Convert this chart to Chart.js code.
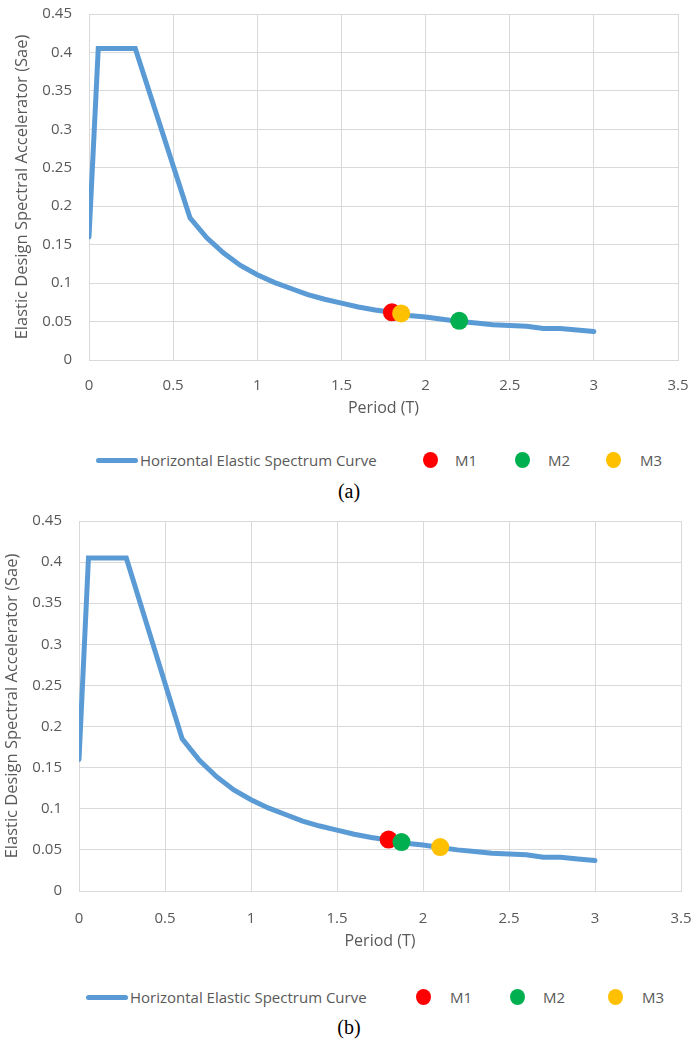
<!DOCTYPE html>
<html>
<head>
<meta charset="utf-8">
<script src="https://cdn.jsdelivr.net/npm/chart.js@4.4.0/dist/chart.umd.min.js"></script>
<style>
    body { margin: 0; background: #fff; width: 692px; height: 1041px; position: relative; overflow: hidden; font-family: "Open Sans", sans-serif; }
    canvas { position: absolute; left: 0; }
    .legText { position: absolute; font-size: 15px; line-height: 20px; color: #595959; white-space: nowrap; }
    .legLine { position: absolute; height: 5px; width: 42px; border-radius: 3px; }
    .legDot { position: absolute; width: 15px; height: 16px; border-radius: 50%; }
    .caption { position: absolute; width: 100px; left: 299px; text-align: center; font-family: "Liberation Serif", "Times New Roman", serif; font-size: 20px; line-height: 24px; color: #000; }
</style>
</head>
<body>
<canvas id="chartA" width="692" height="425" style="top:0px"></canvas>
<div id="legendA"></div>
<div class="caption" style="top:479px">(a)</div>
<canvas id="chartB" width="692" height="460" style="top:500px"></canvas>
<div id="legendB"></div>
<div class="caption" style="top:1015px">(b)</div>
<script>
// spectrum curve, period T (s) vs Sae
const periods = [0, 0.055, 0.275, 0.6, 0.7, 0.8, 0.9, 1.0, 1.1, 1.2, 1.3, 1.4, 1.5, 1.6, 1.7,
    1.8, 1.9, 2.0, 2.1, 2.2, 2.3, 2.4, 2.5, 2.6, 2.7, 2.8, 2.9, 3.0];
const saeValues = [0.16, 0.405, 0.405, 0.185, 0.159, 0.139, 0.123, 0.111, 0.101, 0.093, 0.085, 0.079, 0.074, 0.069, 0.065,
    0.062, 0.058, 0.056, 0.053, 0.050, 0.048, 0.046, 0.045, 0.044, 0.041, 0.041, 0.039, 0.037];

// M1, M2, M3 points
const markerPeriodsA = [1.80, 2.20, 1.855];
const markerSaeA = [0.062, 0.051, 0.0605];
const markerPeriodsB = [1.80, 1.875, 2.10];
const markerSaeB = [0.0625, 0.0595, 0.0535];

const seriesNames = ['Horizontal Elastic Spectrum Curve', 'M1', 'M2', 'M3'];
const xTickLabels = ['0', '0.5', '1', '1.5', '2', '2.5', '3', '3.5'];
const yTickLabels = ['0', '0.05', '0.1', '0.15', '0.2', '0.25', '0.3', '0.35', '0.4', '0.45'];

const curveColor = '#5B9BD5';
const markerColors = ['#FF0000', '#00B050', '#FFC000'];
const gridColor = '#d9d9d9';
const textColor = '#595959';

Chart.defaults.font.family = '"Open Sans", sans-serif';

function buildChart(canvasId, mx, my, g) {
    const datasets = [{
        label: seriesNames[0],
        data: periods.map((t, i) => ({ x: t, y: saeValues[i] })),
        showLine: true,
        borderColor: curveColor,
        borderWidth: 5,
        pointRadius: 0,
        borderCapStyle: 'round',
        borderJoinStyle: 'miter',
        tension: 0,
        order: 4
    }];
    for (let k = 0; k < 3; k++) {
        datasets.push({
            label: seriesNames[k + 1],
            data: [{ x: mx[k], y: my[k] }],
            pointRadius: 9,
            pointBackgroundColor: markerColors[k],
            pointBorderWidth: 0,
            order: 3 - k
        });
    }

    return new Chart(document.getElementById(canvasId).getContext('2d'), {
        type: 'scatter',
        data: { datasets },
        options: {
            responsive: false,
            animation: false,
            devicePixelRatio: 1,
            events: [],
            layout: { padding: g.padding },
            plugins: { legend: { display: false }, tooltip: { enabled: false } },
            scales: {
                x: {
                    type: 'linear', min: 0, max: 3.5,
                    ticks: {
                        stepSize: 0.5, autoSkip: false, maxRotation: 0,
                        padding: g.xTickPad, color: textColor, font: { size: 15 },
                        callback: (v, i) => xTickLabels[i]
                    },
                    grid: { color: gridColor, drawTicks: false },
                    border: { color: gridColor },
                    title: {
                        display: true, text: 'Period (T)', color: textColor,
                        font: { size: 16 }, padding: { top: 0, bottom: g.xTitlePad }
                    },
                    afterFit: (s) => {
                        s.height = g.xHeight;
                        s.paddingLeft = 0;
                        s.paddingRight = 0;
                    }
                },
                y: {
                    type: 'linear', min: 0, max: 0.45,
                    ticks: {
                        stepSize: 0.05, autoSkip: false,
                        padding: g.yTickPad, color: textColor, font: { size: 15 },
                        callback: (v, i) => yTickLabels[i]
                    },
                    grid: { color: gridColor, drawTicks: false },
                    border: { color: gridColor },
                    title: {
                        display: true, text: 'Elastic Design Spectral Accelerator (Sae)', color: textColor,
                        font: { size: 16.5 }, padding: { top: g.yTitlePad, bottom: 0 }
                    },
                    afterFit: (s) => {
                        s.width = g.yWidth;
                        s.paddingTop = 0;
                        s.paddingBottom = 0;
                    }
                }
            }
        }
    });
}

function buildLegend(holderId, chart, lay) {
    const holder = document.getElementById(holderId);
    chart.data.datasets.forEach((ds, i) => {
        const sw = document.createElement('div');
        if (i === 0) {
            sw.className = 'legLine';
            sw.style.background = ds.borderColor;
            sw.style.top = (lay.y - 2.5) + 'px';
        } else {
            sw.className = 'legDot';
            sw.style.background = ds.pointBackgroundColor;
            sw.style.top = (lay.y - 8) + 'px';
        }
        sw.style.left = lay.swatchX[i] + 'px';
        holder.appendChild(sw);

        const tx = document.createElement('div');
        tx.className = 'legText';
        tx.textContent = ds.label;
        tx.style.left = lay.textX[i] + 'px';
        tx.style.top = (lay.y - 10) + 'px';
        holder.appendChild(tx);
    });
}

const chartA = buildChart('chartA', markerPeriodsA, markerSaeA, {
    padding: { top: 14, right: 14, left: 0, bottom: 0 },
    yWidth: 89, xHeight: 65, xTickPad: 17, xTitlePad: 7, yTickPad: 17, yTitlePad: 12
});
const chartB = buildChart('chartB', markerPeriodsB, markerSaeB, {
    padding: { top: 21, right: 11, left: 0, bottom: 0 },
    yWidth: 79, xHeight: 69, xTickPad: 19, xTitlePad: 9, yTickPad: 17, yTitlePad: 2
});

buildLegend('legendA', chartA, { y: 460, swatchX: [96, 423, 515, 606], textX: [140, 455, 548, 640] });
buildLegend('legendB', chartB, { y: 997, swatchX: [86, 416, 510, 608], textX: [130, 450, 543, 642] });
</script>
</body>
</html>
